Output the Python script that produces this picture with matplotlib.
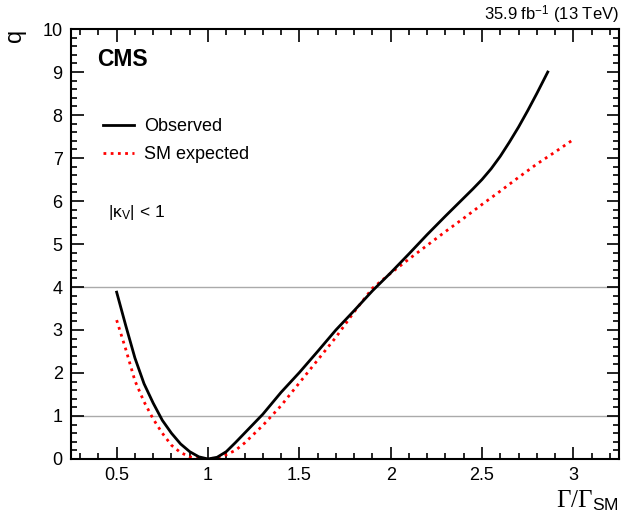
import numpy as np
import matplotlib
matplotlib.use("Agg")
from matplotlib import pyplot as plt
from matplotlib.ticker import MultipleLocator

plt.rcParams['font.family'] = ['Liberation Sans', 'DejaVu Sans']
plt.rcParams['mathtext.fontset'] = 'custom'
plt.rcParams['mathtext.rm'] = 'Liberation Serif'
plt.rcParams['mathtext.sf'] = 'Liberation Sans'
plt.rcParams['mathtext.it'] = 'Liberation Serif:italic'

# Observed scan
obs_x = [0.5, 0.55, 0.6, 0.65, 0.7, 0.75, 0.8, 0.85, 0.9, 0.95, 1.0,
         1.05, 1.1, 1.15, 1.2, 1.3, 1.4, 1.5, 1.6, 1.7, 1.8, 1.9, 2.0,
         2.1, 2.2, 2.3, 2.4, 2.45, 2.5, 2.55, 2.6, 2.65, 2.7, 2.75, 2.8, 2.86]
obs_q = [3.88, 3.1, 2.35, 1.75, 1.3, 0.9, 0.6, 0.35, 0.17, 0.05, 0.0,
         0.04, 0.17, 0.38, 0.6, 1.04, 1.55, 2.01, 2.5, 3.0, 3.45, 3.91, 4.33,
         4.77, 5.22, 5.65, 6.07, 6.28, 6.5, 6.75, 7.04, 7.37, 7.72, 8.1, 8.5, 9.0]

# SM expected scan
exp_x = [0.5, 0.55, 0.6, 0.65, 0.7, 0.75, 0.8, 0.85, 0.9, 0.95, 1.0,
         1.05, 1.1, 1.15, 1.2, 1.3, 1.4, 1.5, 1.6, 1.7, 1.8, 1.9, 2.0,
         2.1, 2.2, 2.3, 2.4, 2.5, 2.6, 2.7, 2.8, 2.9, 3.0]
exp_q = [3.23, 2.55, 1.82, 1.33, 0.93, 0.6, 0.32, 0.15, 0.05, 0.01, 0.0,
         0.03, 0.1, 0.2, 0.37, 0.78, 1.24, 1.77, 2.3, 2.83, 3.42, 3.97, 4.32,
         4.65, 4.97, 5.29, 5.6, 5.92, 6.23, 6.55, 6.86, 7.14, 7.43]

ref_levels = [1, 4]

fig = plt.figure(figsize=(6.21, 5.23), dpi=100)
ax = fig.add_axes([0.1143, 0.1224, 0.8825, 0.8221])

for lvl in ref_levels:
    ax.axhline(lvl, color="#aaaaaa", lw=1.0, zorder=1)

ax.plot(obs_x, obs_q, color="black", lw=2.0, label="Observed", zorder=3)
ax.plot(exp_x, exp_q, color="red", lw=2.0, ls=(0, (1, 1.6)),
        label="SM expected", zorder=2)

ax.set_xlim(0.25, 3.25)
ax.set_ylim(0, 10)
ax.xaxis.set_minor_locator(MultipleLocator(0.1))
ax.yaxis.set_major_locator(MultipleLocator(1))
ax.yaxis.set_minor_locator(MultipleLocator(0.2))
ax.set_xticks([0.5, 1, 1.5, 2, 2.5, 3])
ax.set_xticklabels(["0.5", "1", "1.5", "2", "2.5", "3"])

ax.tick_params(which="both", direction="in", top=True, right=True,
               labelsize=13, width=1.2)
ax.tick_params(which="major", length=9, pad=6)
ax.tick_params(which="minor", length=4.5)
for s in ax.spines.values():
    s.set_linewidth(1.5)

ax.set_ylabel("q", fontsize=17, loc="top", labelpad=12)
ax.set_xlabel(r"$\Gamma/\Gamma_{\mathsf{SM}}$", fontsize=18, loc="right",
              labelpad=3)

ax.text(0.047, 0.928, "CMS", transform=ax.transAxes, fontsize=16.5,
        fontweight="bold", va="center", ha="left")
ax.legend(loc="upper left", bbox_to_anchor=(0.058, 0.793), frameon=False,
          fontsize=13, handlelength=1.75, handletextpad=0.55,
          labelspacing=0.6, borderaxespad=0, borderpad=0)
ax.text(0.0675, 0.574, r"|κ$_{\mathsf{V}}$| < 1", transform=ax.transAxes,
        fontsize=12.5, va="center", ha="left")
fig.text(0.997, 0.993, r"35.9 fb$^{\mathsf{-1}}$ (13 TeV)", fontsize=12,
         ha="right", va="top")

fig.savefig("out.png", dpi=100)
